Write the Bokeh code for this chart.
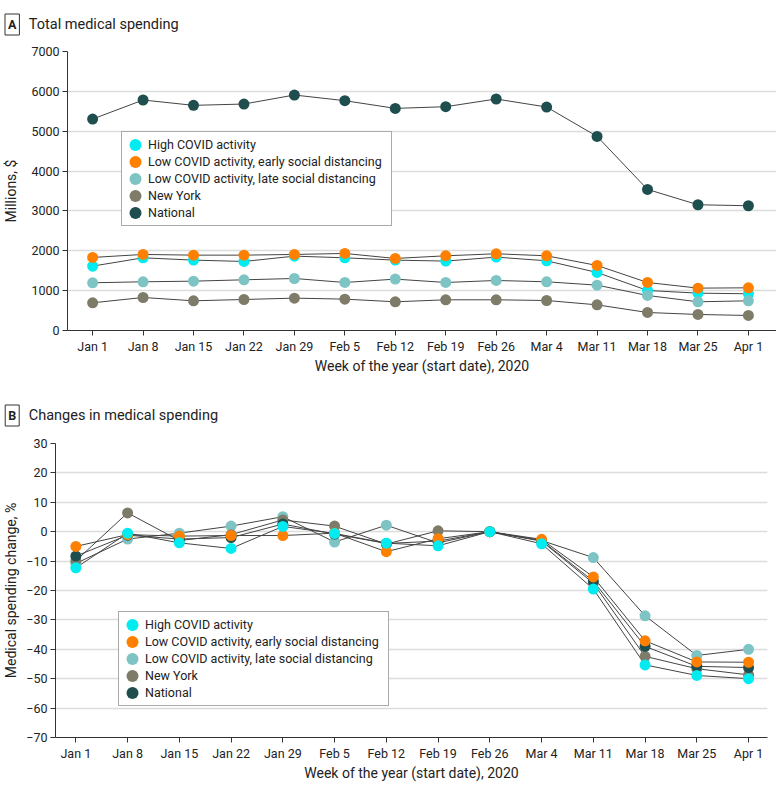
from bokeh.plotting import figure
from bokeh.models import Range1d, FixedTicker, Legend, LegendItem, Label
from bokeh.embed import file_html
from bokeh.resources import INLINE

# ---------------- data ----------------
weeks = ["Jan 1", "Jan 8", "Jan 15", "Jan 22", "Jan 29", "Feb 5", "Feb 12",
         "Feb 19", "Feb 26", "Mar 4", "Mar 11", "Mar 18", "Mar 25", "Apr 1"]

series_names = ["High COVID activity",
                "Low COVID activity, early social distancing",
                "Low COVID activity, late social distancing",
                "New York",
                "National"]

# Panel A: total medical spending, millions $
spend_high = [1615, 1824, 1766, 1732, 1866, 1824, 1766, 1741, 1841, 1749, 1456, 1004, 937, 921]
spend_early = [1833, 1908, 1891, 1891, 1908, 1933, 1808, 1874, 1925, 1874, 1632, 1205, 1063, 1071]
spend_late = [1197, 1222, 1238, 1272, 1305, 1205, 1289, 1205, 1255, 1222, 1138, 879, 720, 745]
spend_ny = [695, 828, 745, 778, 812, 787, 720, 770, 770, 753, 644, 452, 402, 377]
spend_national = [5305, 5783, 5649, 5682, 5908, 5766, 5573, 5615, 5808, 5607, 4870, 3540, 3155, 3130]

# Panel B: change in medical spending, %
chg_high = [-12.3, -0.5, -3.8, -5.7, 1.8, -0.6, -3.9, -4.8, 0, -4.1, -19.5, -45.3, -48.9, -50.0]
chg_early = [-5.0, -1.0, -1.5, -1.3, -1.3, -0.5, -6.8, -2.4, 0, -2.6, -15.4, -37.1, -44.3, -44.4]
chg_late = [-10.8, -2.5, -0.5, 1.9, 5.1, -3.5, 2.2, -3.8, 0, -3.0, -8.8, -28.6, -42.1, -40.0]
chg_ny = [-9.9, 6.4, -3.0, -1.0, 4.0, 1.9, -4.2, 0.3, 0, -3.2, -17.5, -42.4, -46.6, -48.7]
chg_national = [-8.3, -1.2, -2.5, -2.0, 2.6, -0.8, -4.0, -3.2, 0, -3.0, -16.8, -39.0, -45.8, -46.2]

spend_ticks = [0, 1000, 2000, 3000, 4000, 5000, 6000, 7000]
chg_ticks = [-70, -60, -50, -40, -30, -20, -10, 0, 10, 20, 30]

colors = ["#00ECF0", "#FF8000", "#7EC4C4", "#7E7C68", "#1F4E4F"]

FONT = "Roboto"
TXT = "#222222"
W = 776


def make_header(letter, title, height, center_from_bottom):
    h = figure(width=W, height=height, x_range=Range1d(0, W), y_range=Range1d(0, height),
               min_border_left=0, min_border_right=0, min_border_top=0, min_border_bottom=0,
               x_axis_location=None, y_axis_location=None,
               output_backend="svg", toolbar_location=None)
    h.outline_line_color = None
    h.xgrid.visible = False
    h.ygrid.visible = False
    h.add_layout(Label(x=11.7, y=center_from_bottom, x_units="screen", y_units="screen",
                       text=letter, text_align="center", text_baseline="middle",
                       text_font=FONT, text_font_size="12.5px", text_font_style="bold",
                       text_color=TXT, border_line_color="#333333",
                       border_line_width=1, padding=3))
    h.add_layout(Label(x=28.3, y=center_from_bottom, x_units="screen", y_units="screen",
                       text=title, text_align="left", text_baseline="middle",
                       text_font=FONT, text_font_size="14.5px", text_color=TXT))
    return h


def make_panel(ylabel, data, draw_order, yr, yticks, xr, borders, height, legend_loc, ylab_standoff):
    bl, br, bt, bb = borders
    p = figure(width=W, height=height,
               x_range=Range1d(*xr), y_range=Range1d(*yr),
               min_border_left=bl, min_border_right=br,
               min_border_top=bt, min_border_bottom=bb,
               output_backend="svg", toolbar_location=None)
    p.outline_line_color = None
    p.background_fill_color = "white"
    p.xgrid.visible = False
    p.ygrid.grid_line_color = "#DCDCDC"
    p.ygrid.grid_line_width = 1.5

    p.xaxis.ticker = FixedTicker(ticks=list(range(len(weeks))))
    p.xaxis.major_label_overrides = {i: w for i, w in enumerate(weeks)}
    p.yaxis.ticker = FixedTicker(ticks=yticks)
    for ax in (p.xaxis, p.yaxis):
        ax.minor_tick_line_color = None
        ax.major_tick_in = 0
        ax.major_tick_out = 5
        ax.axis_line_color = "#333333"
        ax.major_tick_line_color = "#333333"
        ax.major_label_text_font = FONT
        ax.major_label_text_font_size = "12.5px"
        ax.major_label_text_color = TXT
        ax.major_label_standoff = 3
        ax.axis_label_text_font = FONT
        ax.axis_label_text_font_size = "14px"
        ax.axis_label_text_font_style = "normal"
        ax.axis_label_text_color = TXT
    p.xaxis.axis_label = "Week of the year (start date), 2020"
    p.xaxis.axis_label_standoff = 1
    p.yaxis.axis_label = ylabel
    p.yaxis.axis_label_standoff = ylab_standoff

    xs = list(range(len(weeks)))
    renderers = {}
    for i in draw_order:
        p.line(xs, data[i], line_color="#444444", line_width=1)
    for i in draw_order:
        renderers[i] = p.ellipse(xs, data[i], width=11, height=11,
                                 width_units="screen", height_units="screen",
                                 fill_color=colors[i], line_color=None)

    items = [LegendItem(label=series_names[i], renderers=[renderers[i]])
             for i in range(len(series_names))]
    legend = Legend(items=items, location=legend_loc)
    legend.glyph_width = 16
    legend.glyph_height = 15
    legend.label_height = 15
    legend.spacing = 2
    legend.padding = 5
    legend.margin = 0
    legend.label_standoff = 5
    legend.label_width = 238
    legend.label_text_font = FONT
    legend.label_text_font_size = "12.5px"
    legend.label_text_color = TXT
    legend.border_line_color = "#555555"
    legend.border_line_width = 1
    legend.background_fill_alpha = 1
    p.add_layout(legend)
    return p


spend_data = [spend_high, spend_early, spend_late, spend_ny, spend_national]
chg_data = [chg_high, chg_early, chg_late, chg_ny, chg_national]

hA = make_header("A", "Total medical spending", 40, 16)
pA = make_panel("Millions, $", spend_data, [0, 2, 3, 1, 4], (0, 7000), spend_ticks,
                (-0.498, 13.557), (62, 0, 11, 50), 340, (54, 104), 9)
hB = make_header("B", "Changes in medical spending", 50, 15)
pB = make_panel("Medical spending change, %", chg_data, [2, 3, 4, 1, 0], (-70, 30), chg_ticks,
                (-0.393, 13.366), (53, 9, 13, 49), 356, (63, 31), 4)

open("out.html", "w").write(file_html([hA, pA, hB, pB], INLINE))
